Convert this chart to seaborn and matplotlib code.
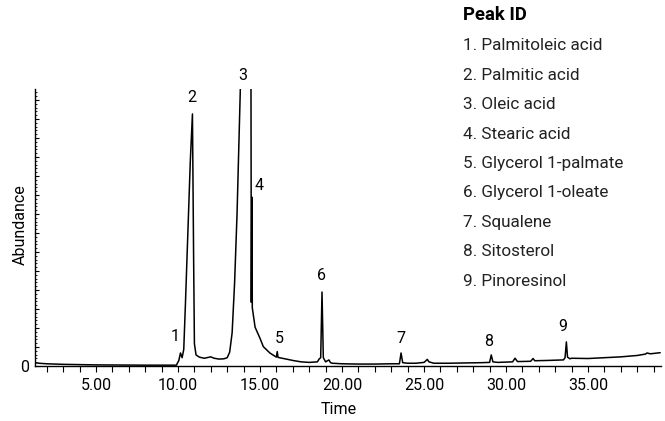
import matplotlib
matplotlib.use("Agg")
import matplotlib.pyplot as plt
import matplotlib.ticker as mticker
import seaborn as sns
import pandas as pd

# Chromatogram trace (time, abundance in % of axis height)
time = [1.28, 1.5, 2.0, 3.0, 5.0, 8.0, 9.9,
        10.05, 10.15, 10.25,
        10.35, 10.45, 10.6, 10.75, 10.88, 10.95, 11.0, 11.1, 11.3, 11.6, 12.0, 12.2, 12.5, 12.8,
        13.0, 13.15, 13.3, 13.45, 13.6, 13.8, 14.0, 14.4, 14.45, 14.47,
        14.5, 14.53, 14.7, 15.0, 15.2, 15.6, 16.0, 16.05, 16.1, 16.6, 17.0, 17.5, 18.0, 18.5,
        18.6, 18.7, 18.78, 18.86, 19.0, 19.2, 19.3, 19.4, 20.0, 21.0, 22.0, 23.0, 23.5,
        23.6, 23.7, 24.0, 24.5, 25.0, 25.1, 25.2, 25.3, 25.6, 26.5, 27.5, 28.5, 29.0,
        29.1, 29.2, 29.5, 30.4, 30.55, 30.7, 31.5, 31.65, 31.75, 32.5, 33.5, 33.6,
        33.68, 33.75, 33.9, 34.0, 35.0, 36.0, 37.0, 38.0, 38.5, 38.6, 38.8, 39.4]
abundance = [1.2, 1.0, 0.8, 0.6, 0.4, 0.3, 0.3,
             2.0, 4.7, 3.0,
             6.0, 22.0, 48.0, 74.0, 91.0, 40.0, 8.0, 4.0, 3.2, 2.8, 3.3, 2.8, 2.5, 2.6,
             3.0, 5.0, 12.0, 30.0, 55.0, 100.0, 140.0, 130.0, 100.0, 23.0,
             61.0, 21.0, 14.0, 10.0, 7.0, 4.7, 3.2, 5.2, 3.1, 2.5, 2.0, 1.5, 1.3, 1.5,
             2.5, 3.0, 26.7, 3.0, 1.5, 2.2, 1.2, 1.0, 0.8, 0.7, 0.7, 0.8, 0.8,
             4.7, 1.2, 1.0, 1.0, 1.3, 1.8, 2.4, 1.5, 1.0, 1.0, 1.1, 1.2, 1.3,
             4.0, 1.5, 1.3, 1.5, 2.8, 1.6, 1.7, 2.7, 1.9, 2.0, 2.2, 3.0,
             8.7, 3.2, 2.6, 2.8, 2.7, 3.0, 3.3, 3.8, 4.3, 4.7, 4.4, 4.8]

# Peak labels
peak_ids = ["1", "2", "3", "4", "5", "6", "7", "8", "9"]
peak_label_t = [9.82, 10.85, 13.96, 14.94, 16.16, 18.72, 23.6, 28.96, 33.48]
peak_label_v = [10.5, 97.1, 105.0, 65.0, 10.1, 32.5, 10.1, 8.7, 14.4]

legend_title = "Peak ID"
compounds = ["Palmitoleic acid", "Palmitic acid", "Oleic acid", "Stearic acid",
             "Glycerol 1-palmate", "Glycerol 1-oleate", "Squalene", "Sitosterol",
             "Pinoresinol"]

x_ticks = [5, 10, 15, 20, 25, 30, 35]
x_tick_labels = ["5.00", "10.00", "15.00", "20.00", "25.00", "30.00", "35.00"]

sns.set_theme(style="ticks")
FONT = ["Roboto", "DejaVu Sans"]
plt.rcParams["font.family"] = FONT

W, H = 665, 421
fig = plt.figure(figsize=(W / 100, H / 100), dpi=100)
ax = fig.add_axes([35 / W, 55 / H, 626 / W, 277 / H])

df = pd.DataFrame({"Time": time, "Abundance": abundance})
sns.lineplot(data=df, x="Time", y="Abundance", sort=False, color="black",
             linewidth=1.1, ax=ax)

ax.set_xlim(1.28, 39.45)
ax.set_ylim(0, 100)

for s in ["top", "right"]:
    ax.spines[s].set_visible(False)
for s in ["left", "bottom"]:
    ax.spines[s].set_linewidth(1.0)
    ax.spines[s].set_color("black")

ax.set_xticks(x_ticks)
ax.set_xticklabels(x_tick_labels)
ax.xaxis.set_minor_locator(mticker.MultipleLocator(1))
ax.tick_params(axis="x", which="both", direction="out", length=4, width=0.8,
               colors="black", labelsize=11.5, pad=5)

ax.yaxis.set_major_locator(mticker.MultipleLocator(6.86))
ax.yaxis.set_minor_locator(mticker.MultipleLocator(1.372))
ax.yaxis.set_major_formatter(mticker.FuncFormatter(lambda v, p: "0" if abs(v) < 1e-6 else ""))
ax.tick_params(axis="y", which="major", direction="in", length=3, width=0.8,
               colors="black", labelsize=11.5, pad=4)
ax.tick_params(axis="y", which="minor", direction="in", length=1.5, width=0.6, colors="black")

ax.set_xlabel("")
ax.set_ylabel("")
fig.text(20 / W, 1 - 225 / H, "Abundance", rotation=90, ha="center", va="center",
         fontsize=11.5, color="black")
fig.text(339 / W, 1 - 410 / H, "Time", ha="center", va="center", fontsize=11.5, color="black")

for pid, t, v in zip(peak_ids, peak_label_t, peak_label_v):
    ax.text(t, v, pid, ha="center", va="center", fontsize=11.5, color="black", clip_on=False)

fig.text(463 / W, 1 - 15 / H, legend_title, ha="left", va="center", fontsize=13.3,
         fontweight="bold", color="black")
for i, name in enumerate(compounds):
    y = 46 + i * 29.4
    fig.text(463 / W, 1 - y / H, f"{i + 1}. {name}", ha="left", va="center",
             fontsize=12.3, color="#222222")

fig.savefig("out.png", dpi=100)
